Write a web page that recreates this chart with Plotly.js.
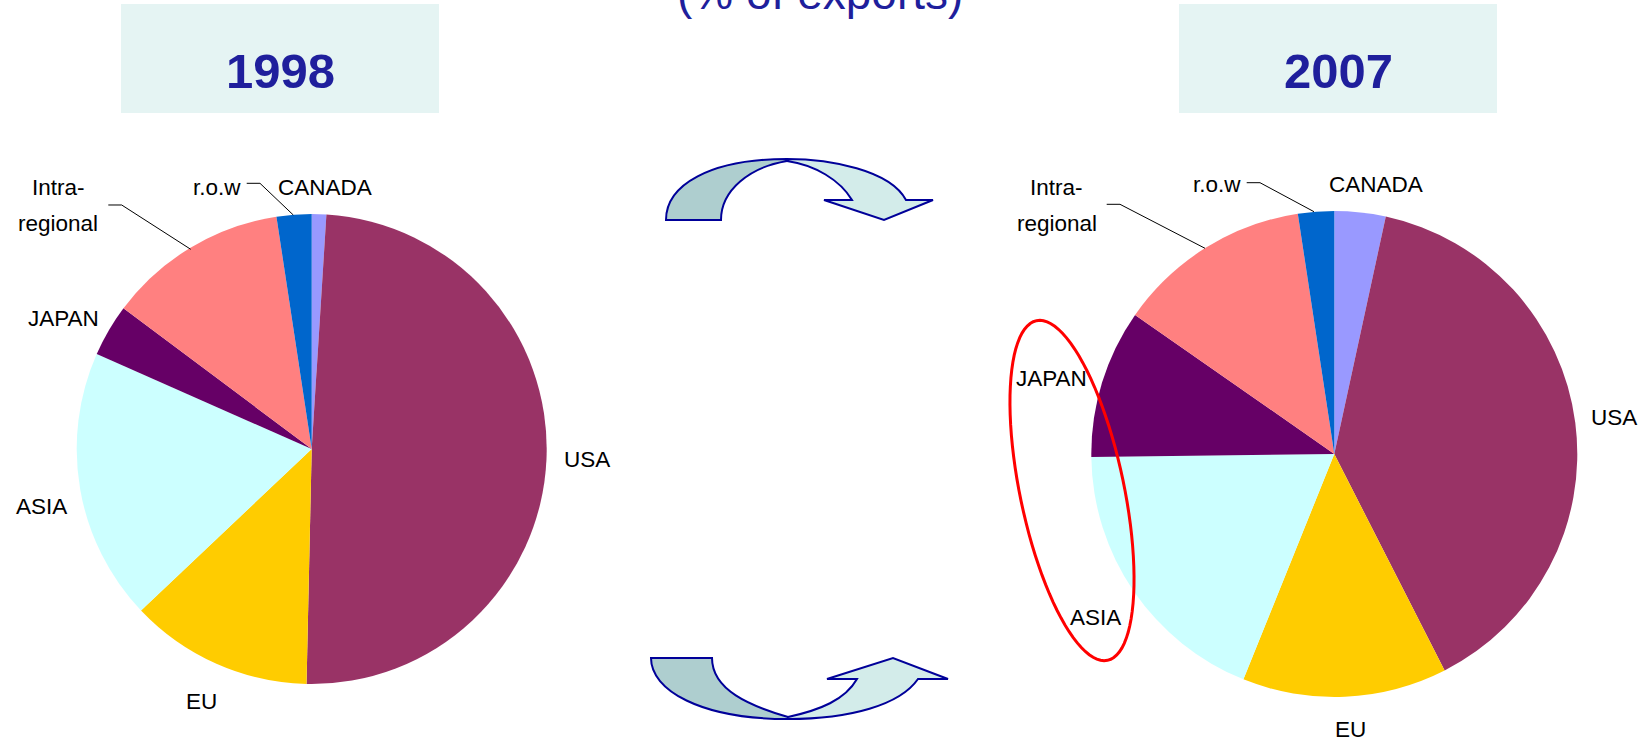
<!DOCTYPE html>
<html>
<head>
<meta charset="utf-8">
<script src="https://cdn.plot.ly/plotly-3.0.1.min.js"></script>
<style>
html,body{margin:0;padding:0;background:#fff;}
#chart{width:1649px;height:742px;}
</style>
</head>
<body>
<div id="chart"></div>
<script>
// ---------- data ----------
const regions = ['CANADA', 'USA', 'EU', 'ASIA', 'JAPAN', 'Intra-regional', 'r.o.w'];
const share1998 = [1.0, 49.4, 12.6, 18.7, 3.6, 12.4, 2.4];
const share2007 = [3.4, 39.1, 13.6, 18.7, 9.9, 12.9, 2.4];
const years = ['1998', '2007'];
const subtitle = '(% of exports)';

// ---------- styles ----------
const sliceColors = ['#9999FF', '#993366', '#FFCC00', '#CCFFFF', '#660066', '#FF8080', '#0066CC'];
const W = 1649, H = 742;
const px = x => x / W;
const py = y => 1 - y / H;
const labelFont = {family: 'Liberation Sans, Arial, sans-serif', size: 22.5, color: '#000'};
const blue = '#1f1f9c';

// pie placement (pixel centre and radius)
const pies = [
  {cx: 311.7, cy: 449, r: 235, values: share1998},
  {cx: 1334.3, cy: 454, r: 243, values: share2007}
];

const data = pies.map(p => ({
  type: 'pie',
  labels: regions,
  values: p.values,
  sort: false,
  direction: 'clockwise',
  rotation: 0,
  textinfo: 'none',
  hoverinfo: 'label+value',
  showlegend: false,
  marker: {colors: sliceColors, line: {width: 0}},
  domain: {x: [px(p.cx - p.r), px(p.cx + p.r)], y: [py(p.cy + p.r), py(p.cy - p.r)]}
}));

// label placement for each pie: [x, y, xanchor]
function labelSet(i) {
  const L = [
    [[325, 187, 'center'], [243, 187, 'right'], [59, 188, 'center'], [58, 223, 'center'], [101, 318, 'right'], [14, 506, 'left'], [562, 459.5, 'left'], [201, 701.5, 'center']],
    [[1327, 184.5, 'left'], [1243, 185, 'right'], [1056, 188, 'center'], [1057, 224, 'center'], [1089, 378, 'right'], [1067.5, 617, 'left'], [1589, 417, 'left'], [1350, 729, 'center']]
  ][i];
  const intraParts = [regions[5].split('-')[0] + '-', regions[5].split('-')[1]];
  const texts = [regions[0], regions[6], intraParts[0], intraParts[1], regions[4], regions[3], regions[1], regions[2]];
  return texts.map((t, k) => ({
    text: t, xref: 'paper', yref: 'paper',
    x: px(L[k][0]), y: py(L[k][1]), xanchor: L[k][2], yanchor: 'middle',
    showarrow: false, font: labelFont
  }));
}

const annotations = [
  ...labelSet(0), ...labelSet(1),
  {text: years[0], xref: 'paper', yref: 'paper', x: px(280), y: py(70.5), xanchor: 'center', yanchor: 'middle',
   showarrow: false, font: {family: 'Liberation Sans, Arial, sans-serif', size: 49, color: blue, weight: 'bold'}},
  {text: years[1], xref: 'paper', yref: 'paper', x: px(1338), y: py(70.5), xanchor: 'center', yanchor: 'middle',
   showarrow: false, font: {family: 'Liberation Sans, Arial, sans-serif', size: 49, color: blue, weight: 'bold'}},
  {text: subtitle, xref: 'paper', yref: 'paper', x: px(820), y: py(-7), xanchor: 'center', yanchor: 'middle',
   showarrow: false, font: {family: 'Liberation Sans, Arial, sans-serif', size: 46, color: blue}}
];

// ---------- decorative shapes ----------
function P(pts) { // pixel path helper: list of commands
  return pts.map(c => c[0] + ' ' + c.slice(1).map((v, i) => (i % 2 === 0 ? px(v) : py(v)).toFixed(5)).join(',')).join(' ');
}
const arrowLine = {color: '#000099', width: 2};
const darkFill = '#AECECF', lightFill = '#D3ECEA';
const shapes = [];
// year boxes
[[121, 4, 439, 113], [1179, 4, 1497, 113]].forEach(b => shapes.push({
  type: 'rect', xref: 'paper', yref: 'paper', x0: px(b[0]), x1: px(b[2]), y0: py(b[3]), y1: py(b[1]),
  fillcolor: '#E5F4F3', line: {width: 0}, layer: 'below'
}));
// top curved arrow
shapes.push({type: 'path', xref: 'paper', yref: 'paper', fillcolor: darkFill, line: arrowLine,
  path: P([['M', 666, 220], ['C', 666, 185, 710, 159, 787, 159], ['L', 787, 161], ['C', 750, 167, 721, 190, 721, 220], ['Z']])});
shapes.push({type: 'path', xref: 'paper', yref: 'paper', fillcolor: lightFill, line: arrowLine,
  path: P([['M', 787, 159], ['C', 830, 159, 890, 170, 906, 200], ['L', 933, 200], ['L', 884, 220], ['L', 824, 200], ['L', 852, 200],
           ['C', 840, 180, 815, 165, 787, 161], ['Z']])});
// bottom curved arrow
shapes.push({type: 'path', xref: 'paper', yref: 'paper', fillcolor: darkFill, line: arrowLine,
  path: P([['M', 651, 658], ['C', 651, 690, 700, 719, 788, 719], ['L', 788, 717], ['C', 750, 706, 712, 690, 712, 658], ['Z']])});
shapes.push({type: 'path', xref: 'paper', yref: 'paper', fillcolor: lightFill, line: arrowLine,
  path: P([['M', 788, 719], ['C', 850, 719, 900, 705, 918, 679], ['L', 948, 679], ['L', 893, 658], ['L', 827, 679], ['L', 857, 679],
           ['C', 845, 700, 820, 710, 788, 717], ['Z']])});
// leader lines
[[[246.7, 183.3], [260, 183.3], [293.3, 215]],
 [[108.3, 205], [121.7, 205], [190.7, 249.3]],
 [[1246.7, 182.7], [1260, 182.7], [1314, 211.7]],
 [[1106.7, 204.3], [1120, 204.3], [1205, 248.3]]].forEach(l => shapes.push({
  type: 'path', xref: 'paper', yref: 'paper', line: {color: '#000', width: 1},
  path: P([['M', l[0][0], l[0][1]], ['L', l[1][0], l[1][1]], ['L', l[2][0], l[2][1]]])
}));
// red highlight ellipse (rotated: top leans left, bottom leans right)
(function () {
  const cx = 1072, cy = 490.5, a = 173.5, b = 52, th = -11.8 * Math.PI / 180;
  const cmds = [];
  for (let k = 0; k <= 96; k++) {
    const t = k / 96 * 2 * Math.PI;
    const ex = b * Math.cos(t), ey = a * Math.sin(t);
    const x = cx + ex * Math.cos(th) - ey * Math.sin(th);
    const y = cy + ex * Math.sin(th) + ey * Math.cos(th);
    cmds.push([k === 0 ? 'M' : 'L', x, y]);
  }
  cmds.push(['Z']);
  shapes.push({type: 'path', xref: 'paper', yref: 'paper', line: {color: '#FF0000', width: 3}, path: P(cmds)});
})();

const layout = {
  width: W, height: H,
  margin: {l: 0, r: 0, t: 0, b: 0, pad: 0},
  paper_bgcolor: '#fff', plot_bgcolor: '#fff',
  showlegend: false,
  annotations: annotations,
  shapes: shapes
};

Plotly.newPlot('chart', data, layout, {displayModeBar: false, staticPlot: true});
</script>
</body>
</html>
